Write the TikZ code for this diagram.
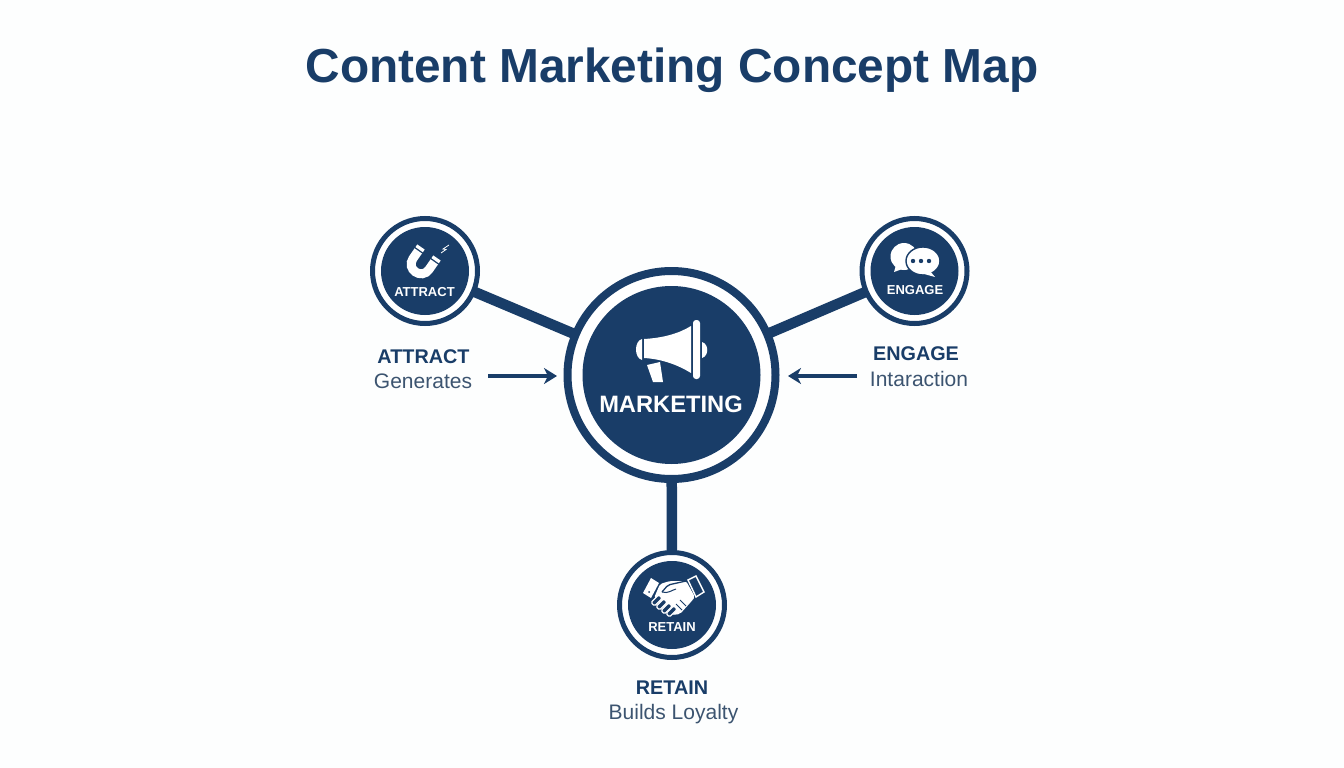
\documentclass[tikz,border=0pt]{standalone}
\usepackage{fontspec}
\setmainfont{Liberation Sans}
\usetikzlibrary{arrows.meta}
\definecolor{mynavy}{RGB}{25,61,104}
\definecolor{mygray}{RGB}{60,84,112}
\definecolor{mypaper}{RGB}{253,254,254}
\tikzset{
ring/.style={circle, draw=mynavy, fill=white, inner sep=0pt, outer sep=0pt},
bigring/.style={ring, line width=8pt, minimum size=208pt},
smallring/.style={ring, line width=5pt, minimum size=105pt},
disc/.style={circle, fill=mynavy, inner sep=0pt, outer sep=0pt},
spoke/.style={draw=mynavy, line width=10.5pt},
pointer/.style={draw=mynavy, line width=3.6pt, -{Stealth[length=13pt,width=16pt,inset=4pt]}},
badge/.style={white, font=\bfseries\fontsize{13}{15}\selectfont},
headword/.style={mynavy, font=\bfseries\fontsize{19.8}{22}\selectfont},
subword/.style={mygray, font=\fontsize{21}{24}\selectfont},
}
\begin{document}
\begin{tikzpicture}[x=1pt,y=-1pt]
\useasboundingbox (0,0) rectangle (1344,768);
\fill [mypaper] (0,0) rectangle (1344,768);
\node [mynavy, font=\bfseries\fontsize{47.8}{52}\selectfont] (title) at (672,70) {Content Marketing Concept Map};
% rings
\node [bigring] (marketing) at (671.5,375) {};
\node [smallring] (attract) at (425,271) {};
\node [smallring] (engage) at (914.5,271) {};
\node [smallring] (retain) at (672,605) {};
\draw [spoke] (attract) -- (marketing);
\draw [spoke] (engage) -- (marketing);
\draw [spoke] (retain) -- (marketing);
\node [disc, minimum size=178pt] (marketingdisc) at (marketing.center) {};
\node [disc, minimum size=88pt] (attractdisc) at (attract.center) {};
\node [disc, minimum size=88pt] (engagedisc) at (engage.center) {};
\node [disc, minimum size=88pt] (retaindisc) at (retain.center) {};
% texts in the discs
\node [white, font=\bfseries\fontsize{23.7}{26}\selectfont] (marketingtext) at (671,404) {MARKETING};
\node [badge] (attracttext) at (424.5,292) {ATTRACT};
\node [badge] (engagetext) at (915,290.5) {ENGAGE};
\node [badge] (retaintext) at (672,627.5) {RETAIN};
% texts outside
\node [headword] (attracthead) at (423.5,356.5) {ATTRACT};
\node [subword] (attractsub) at (423,381.5) {Generates};
\node [headword] (engagehead) at (916,353.5) {ENGAGE};
\node [subword] (engagesub) at (919,379) {Intaraction};
\node [headword] (retainhead) at (672,687.5) {RETAIN};
\node [subword] (retainsub) at (673.5,714) {Builds Loyalty};
% arrows
\coordinate (attracttail) at (488,376);
\coordinate (attracttip) at (557,376);
\coordinate (engagetail) at (857,376);
\coordinate (engagetip) at (788,376);
\draw [pointer] (attracttail) -- (attracttip);
\draw [pointer] (engagetail) -- (engagetip);
% megaphone
\fill [white] (644,339) .. controls (662,338) and (678,334) .. (691,326) -- (691,373) .. controls (678,365) and (662,359) .. (644,358) -- cycle;
\fill [white, rounded corners=3pt] (693,320) rectangle (700,379);
\fill [white] (642,339) .. controls (634,341) and (634,358) .. (642,360) -- cycle;
\fill [white] (702,342) .. controls (709,344) and (709,356) .. (702,358) -- cycle;
\fill [white] (647,365) -- (660,362) -- (663,382) -- (653,382) -- cycle;
% magnet
\draw [white, line width=9pt] (421,247) -- (413,258.5) .. controls (405.6,269.1) and (421.6,280.1) .. (429,269.5) -- (437,258);
\draw [mynavy, line width=1.2pt] (414.6,247.4) -- (422.8,253.2);
\draw [mynavy, line width=1.2pt] (430.6,258.4) -- (438.8,264.2);
\draw [white, line width=.8pt] (441,253) -- (446,249.5) -- (443,249) -- (449,245);
% speech bubbles
\fill [white] (904,256.5) circle [x radius=13.5pt, y radius=13.5pt];
\fill [white] (896,265) -- (894,272) -- (905,268) -- cycle;
\draw [mynavy, line width=1.4pt, fill=white] (923,261) circle [x radius=17pt, y radius=14pt];
\fill [white] (930,271) -- (935,277) -- (924,274) -- cycle;
\foreach \x in {913,921,929}
  \fill [mynavy] (\x,261) circle [radius=2.2pt];
% handshake
\fill [white] (643,593) -- (651,578) -- (659,583) -- (651,598) -- cycle;
\fill [mynavy] (649,592) circle [radius=1pt];
\draw [white, line width=1.4pt, fill=mynavy] (688,580) -- (696,576) -- (704,592) -- (696,597) -- cycle;
\fill [white, rounded corners=2pt] (660,584) -- (670,581) -- (686,581) -- (695,597) -- (690,603) -- (680,614) -- (672,615) -- (654,598) -- cycle;
\draw [mynavy, line width=1.3pt, rounded corners=2pt] (662,592) -- (668,585) -- (686,581);
\draw [mynavy, line width=1pt] (662,592) .. controls (668,594) and (672,590) .. (676,589);
\draw [mynavy, line width=1pt] (680,600) -- (686,606);
\draw [mynavy, line width=1pt] (676,604) -- (682,610);
\foreach \x/\y in {657/600,662/604,667/608,672/611}
  \draw [white, line width=1.3pt, fill=mynavy, rounded corners=1.5pt, rotate around={45:(\x,\y)}] (\x-6,\y-2.5) rectangle (\x+5,\y+2.5);
\end{tikzpicture}
\end{document}
